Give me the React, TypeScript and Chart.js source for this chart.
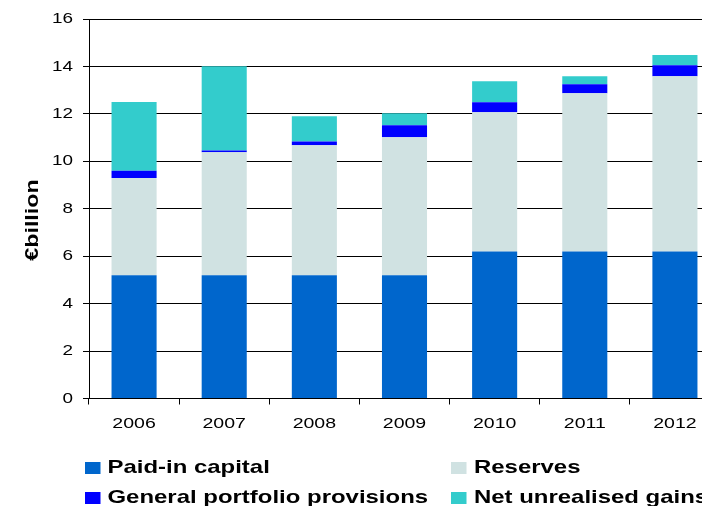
import React, { useEffect, useRef } from 'react';
import { Chart, registerables } from 'chart.js';

Chart.register(...registerables);

// ---- data ----
const YEARS = ['2006', '2007', '2008', '2009', '2010', '2011', '2012'];
const PAID_IN = [5.2, 5.2, 5.2, 5.2, 6.2, 6.2, 6.2];
const RESERVES = [4.1, 5.18, 5.48, 5.81, 5.87, 6.67, 7.39];
const PROVISIONS = [0.3, 0.08, 0.16, 0.51, 0.42, 0.38, 0.46];
const UNREALISED = [2.9, 3.55, 1.06, 0.51, 0.89, 0.34, 0.43];
const SERIES_NAMES = ['Paid-in capital', 'Reserves', 'General portfolio provisions', 'Net unrealised gains'];
const SERIES_COLORS = ['#0066CC', '#D0E2E2', '#0000FF', '#33CCCC'];
const Y_MIN = 0;
const Y_MAX = 16;
const Y_STEP = 2;
const Y_TITLE = '€billion';

// ---- styling ----
const FONT = "'Liberation Sans', Arial, sans-serif";
const TEXT_STRETCH = 1.26;
const CANVAS_W = 740;
const CANVAS_H = 506;

const yTitlePlugin = {
  id: 'yTitle',
  afterDraw(chart: any) {
    const ctx = chart.ctx;
    ctx.save();
    ctx.translate(37.7, 220);
    ctx.rotate(-Math.PI / 2);
    ctx.font = `bold 18.5px ${FONT}`;
    ctx.fillStyle = '#000';
    ctx.textAlign = 'center';
    ctx.textBaseline = 'alphabetic';
    ctx.fillText(Y_TITLE, 0, 0);
    ctx.restore();
  },
};

const gridLegendPlugin = {
  id: 'gridLegend',
  afterDraw(chart: any) {
    const ctx = chart.ctx;
    const markerX = [85, 451];
    const textX = [107.5, 474];
    const markerTop = [462, 492];
    const baseline = [472.7, 502.7];
    ctx.save();
    chart.data.datasets.forEach((ds: any, i: number) => {
      const col = i % 2;
      const row = Math.floor(i / 2);
      ctx.fillStyle = ds.backgroundColor;
      ctx.fillRect(markerX[col], markerTop[row], 15.5, 12);
      ctx.fillStyle = '#000';
      ctx.font = `bold 19px ${FONT}`;
      ctx.textAlign = 'left';
      ctx.textBaseline = 'alphabetic';
      ctx.fillText(ds.label, textX[col], baseline[row]);
    });
    ctx.restore();
  },
};

export default function App() {
  const canvasRef = useRef<HTMLCanvasElement | null>(null);

  useEffect(() => {
    const canvas = canvasRef.current;
    if (!canvas) return;
    const ctx = canvas.getContext('2d') as any;
    const rawFill = CanvasRenderingContext2D.prototype.fillText;
    // original chart renders its text horizontally widened
    ctx.fillText = function (text: string, x: number, y: number) {
      this.save();
      this.translate(x, y);
      this.scale(TEXT_STRETCH, 1);
      rawFill.call(this, text, 0, 0);
      this.restore();
    };

    const datasetValues = [PAID_IN, RESERVES, PROVISIONS, UNREALISED];
    const chart = new Chart(canvas, {
      type: 'bar',
      data: {
        labels: YEARS,
        datasets: datasetValues.map((vals, i) => ({
          label: SERIES_NAMES[i],
          data: vals,
          backgroundColor: SERIES_COLORS[i],
          borderWidth: 0,
          categoryPercentage: 1,
          barPercentage: 0.5,
        })),
      },
      options: {
        responsive: false,
        animation: false,
        devicePixelRatio: 1,
        layout: { padding: { top: 19, right: 20, bottom: 67.5, left: 0 } },
        plugins: {
          legend: { display: false },
          tooltip: { enabled: false },
          title: { display: false },
        },
        scales: {
          x: {
            stacked: true,
            grid: {
              display: true,
              drawOnChartArea: false,
              drawTicks: true,
              tickLength: 6,
              color: '#000',
              offset: true,
            },
            border: { display: true, color: '#000', width: 1 },
            ticks: {
              color: '#000',
              font: { family: FONT, size: 15.5 },
              padding: 10,
              maxRotation: 0,
            },
            afterFit: (scale: any) => {
              scale.height = 40;
            },
          },
          y: {
            stacked: true,
            min: Y_MIN,
            max: Y_MAX,
            grid: {
              color: '#000',
              lineWidth: 1,
              drawTicks: true,
              tickLength: 6,
            },
            border: { display: true, color: '#000', width: 1 },
            ticks: {
              stepSize: Y_STEP,
              color: '#000',
              font: { family: FONT, size: 15 },
              padding: 10,
            },
            afterFit: (scale: any) => {
              scale.width = 89;
            },
          },
        },
      },
      plugins: [yTitlePlugin, gridLegendPlugin],
    });

    return () => {
      chart.destroy();
      delete ctx.fillText;
    };
  }, []);

  return (
    <div
      style={{
        position: 'fixed',
        left: 0,
        top: 0,
        width: 702,
        height: 506,
        overflow: 'hidden',
        background: '#fff',
      }}
    >
      <canvas
        ref={canvasRef}
        width={CANVAS_W}
        height={CANVAS_H}
        style={{ display: 'block', width: CANVAS_W, height: CANVAS_H }}
      />
    </div>
  );
}
